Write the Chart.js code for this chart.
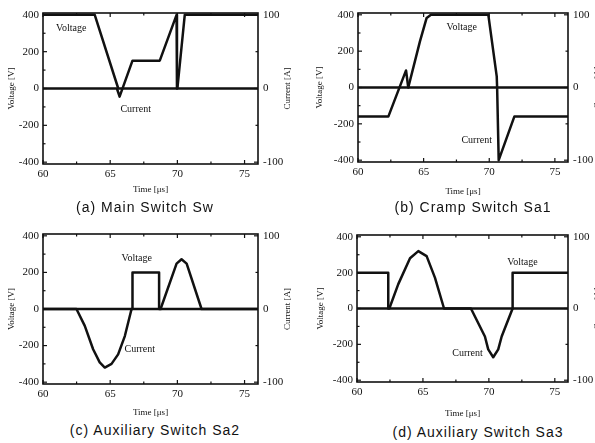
<!DOCTYPE html>
<html>
<head>
<meta charset="utf-8">
<script src="https://cdn.jsdelivr.net/npm/chart.js@4/dist/chart.umd.min.js"></script>
<style>
  html, body { margin: 0; padding: 0; background: #fff; }
  #wrap { position: relative; width: 595px; height: 443px; overflow: hidden; background: #fff; }
  canvas { position: absolute; }
  .cap {
    position: absolute;
    transform: translate(-50%, -50%);
    font: 14px "Liberation Sans", Arial, sans-serif;
    letter-spacing: 1px;
    white-space: nowrap;
    color: #111;
  }
</style>
</head>
<body>
<div id="wrap">
  <canvas id="ca"></canvas>
  <canvas id="cb"></canvas>
  <canvas id="cc"></canvas>
  <canvas id="cd"></canvas>
  <div class="cap" style="left:145px;top:207px">(a) Main Switch Sw</div>
  <div class="cap" style="left:473px;top:207px">(b) Cramp Switch Sa1</div>
  <div class="cap" style="left:155px;top:430px">(c) Auxiliary Switch Sa2</div>
  <div class="cap" style="left:478px;top:432px">(d) Auxiliary Switch Sa3</div>
</div>
<script>
// axis ticks
const xTicks = [60, 65, 70, 75];
const xMinor = [62.5, 67.5, 72.5];
const yTicks = [-400, -200, 0, 200, 400];
const yMinor = [-300, -100, 100, 300];
const y2Ticks = [-100, 0, 100];
const y2Minor = [-50, 50];

// (a) main switch Sw : time [us], voltage [V], current [A]
const aVoltT = [60, 63.85, 65.6, 70.0, 70.55, 76];
const aVoltV = [400, 400, 0, 0, 400, 400];
const aCurT = [60, 65.5, 65.7, 66.66, 68.69, 69.94, 69.97, 76];
const aCurA = [0, 0, -11, 37.8, 37.8, 100, 0, 0];

// (b) cramp switch Sa1
const bVoltT = [60, 63.83, 64.72, 65.23, 65.56, 69.93, 70.57, 70.6, 76];
const bVoltV = [0, 0, 254, 383, 400, 400, 61, 0, 0];
const bCurT = [60, 62.31, 63.66, 63.83, 70.6, 70.72, 71.91, 76];
const bCurA = [-40, -40, 23.5, 0, 0, -100, -40, -40];

// (c) auxiliary switch Sa2
const cVoltT = [60, 66.66, 66.66, 68.64, 68.64, 76];
const cVoltV = [0, 0, 200, 200, 0, 0];
const cCurT = [60, 62.49, 63.11, 63.73, 64.22, 64.6, 65.1, 65.59, 66.09, 66.59, 68.75, 69.94, 70.31, 70.69, 71.8, 76];
const cCurA = [0, 0, -23, -55, -73, -80, -75, -62, -37, 0, 0, 62, 68, 62, 0, 0];

// (d) auxiliary switch Sa3
const dVoltT = [60, 62.37, 62.37, 71.8, 71.8, 76];
const dVoltV = [200, 200, 0, 0, 200, 200];
const dCurT = [60, 62.45, 63.13, 64.02, 64.65, 65.28, 65.91, 66.6, 68.64, 69.7, 69.95, 70.33, 70.71, 70.97, 71.8, 76];
const dCurA = [0, 0, 34, 70, 80, 73, 43, 0, 0, -39, -57, -68, -57, -39, 0, 0];

// in-plot text (time [us], voltage [V])
const aLabels = [["Voltage", 62.1, 324], ["Current", 66.9, -113]];
const bLabels = [["Voltage", 67.9, 331], ["Current", 69.04, -289]];
const cLabels = [["Voltage", 66.98, 276], ["Current", 67.2, -223]];
const dLabels = [["Voltage", 72.55, 255], ["Current", 68.38, -251]];

const SERIF = '"Liberation Serif", "Times New Roman", serif';
Chart.defaults.font.family = SERIF;
Chart.defaults.color = '#111';

// frame, inward tick marks, right title and trace labels
const decor = {
  id: 'decor',
  afterDraw(chart) {
    const { ctx, chartArea: a, scales } = chart;
    const labels = chart.options.plugins.decor.labels;
    ctx.save();
    ctx.strokeStyle = '#111';
    ctx.lineWidth = 1.2;
    const xMarks = (vals, len) => vals.forEach(v => {
      const px = scales.x.getPixelForValue(v);
      ctx.beginPath();
      ctx.moveTo(px, a.bottom); ctx.lineTo(px, a.bottom - len);
      ctx.moveTo(px, a.top); ctx.lineTo(px, a.top + len);
      ctx.stroke();
    });
    const yMarks = (scale, vals, len, side) => vals.forEach(v => {
      const py = scale.getPixelForValue(v);
      const x0 = side === 'left' ? a.left : a.right;
      const dir = side === 'left' ? 1 : -1;
      ctx.beginPath();
      ctx.moveTo(x0, py); ctx.lineTo(x0 + dir * len, py);
      ctx.stroke();
    });
    xMarks(xTicks, 4); xMarks(xMinor, 2.5);
    yMarks(scales.y, yTicks, 4, 'left'); yMarks(scales.y, yMinor, 2.5, 'left');
    yMarks(scales.y2, y2Ticks, 4, 'right'); yMarks(scales.y2, y2Minor, 2.5, 'right');
    ctx.lineWidth = 1.6;
    ctx.strokeRect(a.left, a.top, a.right - a.left, a.bottom - a.top);

    ctx.fillStyle = '#111';
    ctx.textAlign = 'center';
    ctx.textBaseline = 'middle';
    ctx.font = '10px ' + SERIF;
    labels.forEach(([txt, t, v]) => {
      ctx.fillText(txt, scales.x.getPixelForValue(t), scales.y.getPixelForValue(v));
    });

    ctx.font = '9px ' + SERIF;
    ctx.translate(a.right + 30, (a.top + a.bottom) / 2);
    ctx.rotate(-Math.PI / 2);
    ctx.fillText('Current [A]', 0, 0);
    ctx.restore();
  }
};

function series(ts, vs, axis) {
  return {
    data: ts.map((t, i) => ({ x: t, y: vs[i] })),
    yAxisID: axis,
    borderColor: '#111',
    borderWidth: 2.5,
    borderJoinStyle: 'round',
    pointRadius: 0,
    tension: 0,
    fill: false
  };
}

function makePanel(id, p, voltT, voltV, curT, curA, labels) {
  const cv = document.getElementById(id);
  const plotW = p.plotW, y2W = 39;
  cv.width = p.padLeft + p.yW + plotW + y2W;
  cv.height = p.padTop + p.plotH + p.xH;
  cv.style.left = p.left + 'px';
  cv.style.top = p.top + 'px';

  new Chart(cv, {
    type: 'line',
    data: {
      datasets: [series(voltT, voltV, 'y'), series(curT, curA, 'y2')]
    },
    options: {
      responsive: false,
      animation: false,
      devicePixelRatio: 1,
      layout: { padding: { top: p.padTop, left: p.padLeft, right: 0, bottom: 0 } },
      plugins: {
        legend: { display: false },
        tooltip: { enabled: false },
        decor: { labels: labels }
      },
      scales: {
        x: {
          type: 'linear',
          min: 60,
          max: 76,
          afterBuildTicks: s => { s.ticks = xTicks.map(v => ({ value: v })); },
          afterFit: s => { s.height = p.xH; },
          grid: { display: false, drawTicks: false },
          border: { display: false },
          ticks: { font: { size: 11 }, padding: 4, maxRotation: 0, autoSkip: false, color: '#111' },
          title: { display: true, text: 'Time [μs]', font: { size: 9 }, color: '#111', padding: { top: 0, bottom: p.xPad } }
        },
        y: {
          position: 'left',
          min: -410,
          max: 410,
          afterBuildTicks: s => { s.ticks = yTicks.map(v => ({ value: v })); },
          afterFit: s => { s.width = p.yW; },
          grid: { display: false, drawTicks: false },
          border: { display: false },
          ticks: { font: { size: 11 }, padding: 4, color: '#111' },
          title: { display: true, text: 'Voltage [V]', font: { size: 9 }, color: '#111', padding: { top: 6, bottom: 0 } }
        },
        y2: {
          position: 'right',
          min: -102.5,
          max: 102.5,
          afterBuildTicks: s => { s.ticks = y2Ticks.map(v => ({ value: v })); },
          afterFit: s => { s.width = y2W; },
          grid: { display: false, drawTicks: false },
          border: { display: false },
          ticks: { font: { size: 11 }, padding: 5, color: '#111' }
        }
      }
    },
    plugins: [decor]
  });
}

makePanel('ca', { left: 0, top: 0, padTop: 13, padLeft: 0, yW: 43, plotW: 215, plotH: 151, xH: 36, xPad: 5 },
  aVoltT, aVoltV, aCurT, aCurA, aLabels);
makePanel('cb', { left: 297, top: 0, padTop: 13, padLeft: 11, yW: 50, plotW: 210, plotH: 149, xH: 36, xPad: 1 },
  bVoltT, bVoltV, bCurT, bCurA, bLabels);
makePanel('cc', { left: 0, top: 220, padTop: 14, padLeft: 0, yW: 43, plotW: 215, plotH: 150, xH: 36, xPad: 2 },
  cVoltT, cVoltV, cCurT, cCurA, cLabels);
makePanel('cd', { left: 297, top: 220, padTop: 15, padLeft: 12, yW: 48, plotW: 211, plotH: 147, xH: 38, xPad: 1 },
  dVoltT, dVoltV, dCurT, dCurA, dLabels);
</script>
</body>
</html>
